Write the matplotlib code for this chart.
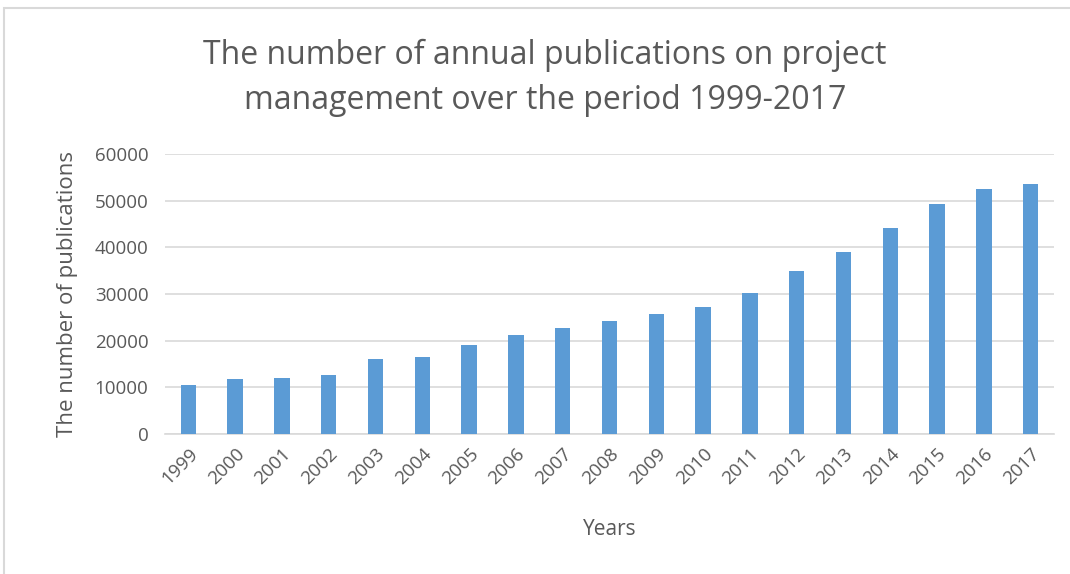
import matplotlib.pyplot as plt
from matplotlib.patches import Rectangle

# annual publication counts
years = ['1999', '2000', '2001', '2002', '2003', '2004', '2005', '2006', '2007', '2008',
         '2009', '2010', '2011', '2012', '2013', '2014', '2015', '2016', '2017']
publications = [10400, 11800, 12100, 12700, 16000, 16500, 19000, 21200, 22800, 24200,
                25800, 27200, 30200, 34900, 39000, 44200, 49200, 52500, 53600]
yticks = [0, 10000, 20000, 30000, 40000, 50000, 60000]

text_color = '#595959'
bar_color = '#5B9BD5'
grid_color = '#D9D9D9'

plt.rcParams['font.family'] = ['Open Sans', 'DejaVu Sans']

fig = plt.figure(figsize=(10.7, 5.74), dpi=100)
ax = fig.add_axes([165 / 1070, 1 - 434 / 574, (1054 - 165) / 1070, (434 - 154) / 574])

# light border of the chart area
fig.patches.append(Rectangle((4 / 1070, -0.1), 1.2, 1 - 8 / 574 + 0.1,
                             transform=fig.transFigure, fill=False,
                             edgecolor=grid_color, linewidth=1.5))

x = range(len(years))
ax.bar(x, publications, width=0.33, color=bar_color, zorder=3)

ax.set_xlim(-0.5, len(years) - 0.5)
ax.set_ylim(0, 60000)
ax.set_yticks(yticks)
ax.set_yticklabels([str(v) for v in yticks], fontsize=13.5, color=text_color)
ax.set_xticks(list(x))
ax.set_xticklabels(years, rotation=45, ha='right', rotation_mode='anchor',
                   fontsize=13.5, color=text_color)
ax.tick_params(axis='y', length=0, pad=12)
ax.tick_params(axis='x', length=0, pad=8)

ax.grid(axis='y', color=grid_color, linewidth=1.2, zorder=0)
for s in ['top', 'right', 'left']:
    ax.spines[s].set_visible(False)
ax.spines['bottom'].set_color(grid_color)
ax.spines['bottom'].set_linewidth(1.2)

ax.set_ylabel('The number of publications', fontsize=16, color=text_color, labelpad=12)
ax.set_xlabel('Years', fontsize=15, color=text_color, labelpad=22)

fig.text(545 / 1070, 1 - 78 / 574,
         'The number of annual publications on project\nmanagement over the period 1999-2017',
         ha='center', va='center', fontsize=23, color=text_color, linespacing=1.45)

fig.savefig('out.png', dpi=100)
